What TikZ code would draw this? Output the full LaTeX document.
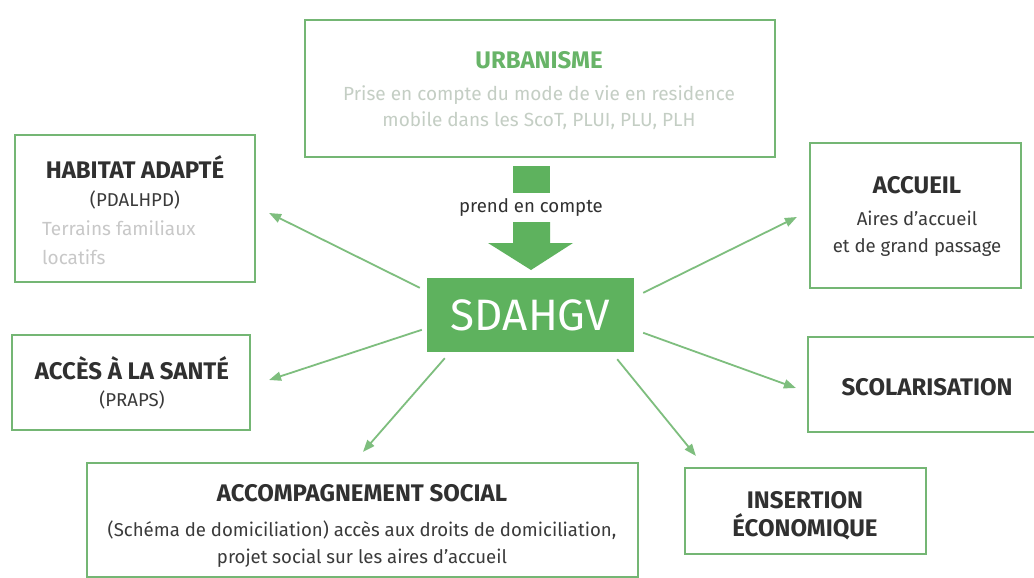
\documentclass[tikz,border=0pt]{standalone}
\usepackage{fontspec}
\setmainfont{Fira Sans}
\usetikzlibrary{arrows.meta,calc}
\definecolor{boxgreen}{RGB}{116,182,116}
\definecolor{sdgreen}{RGB}{94,178,94}
\definecolor{arrgreen}{RGB}{126,190,126}
\definecolor{titlegray}{RGB}{48,48,48}
\definecolor{bodygray}{RGB}{58,58,58}
\definecolor{urbgreen}{RGB}{104,180,104}
\definecolor{faint}{RGB}{196,206,196}
\definecolor{faintgray}{RGB}{200,200,200}
\tikzset{
  box/.style={draw=boxgreen, line width=2.2pt, inner sep=0pt},
  ttl/.style={font=\fontsize{24}{28}\selectfont\bfseries, text=titlegray, inner sep=0pt},
  bdy/.style={font=\fontsize{18.6}{22}\selectfont, text=bodygray, inner sep=0pt},
  fnt/.style={font=\fontsize{19}{22}\selectfont, text=faint, inner sep=0pt},
  arr/.style={draw=arrgreen, line width=1.8pt, -{Triangle[length=12pt,width=9pt]}}
}
\begin{document}
\begin{tikzpicture}[x=1pt,y=-1pt]
\useasboundingbox (0,0) rectangle (1034,578);
\fill[white] (0,0) rectangle (1034,578);
% boxes
\node[box, minimum width=470pt, minimum height=137pt] (urb) at (540,88.5) {};
\node[box, minimum width=240pt, minimum height=147pt] (hab) at (135,208.5) {};
\node[box, minimum width=238pt, minimum height=95pt] (acc) at (131,382.5) {};
\node[box, minimum width=211pt, minimum height=145pt] (accu) at (915.5,215.5) {};
\node[box, minimum width=237pt, minimum height=95pt] (scol) at (926.5,384.5) {};
\node[box, minimum width=551pt, minimum height=114pt] (soc) at (362.5,520) {};
\node[box, minimum width=241pt, minimum height=86pt] (ins) at (805.5,511) {};
\node[fill=sdgreen, inner sep=0pt, minimum width=207pt, minimum height=74pt,
      font=\fontsize{44}{50}\selectfont, text=white] (sd) at (530.5,315) {SDAHGV};
% urbanisme texts
\node[ttl, text=urbgreen] (urbt) at (539,60) {URBANISME};
\node[fnt] (urb1) at (539,95) {Prise en compte du mode de vie en residence};
\node[fnt] (urb2) at (539,121) {mobile dans les ScoT, PLUI, PLU, PLH};
% big arrow
\node[fill=sdgreen, inner sep=0pt, minimum width=37pt, minimum height=27pt] (sq) at (531.5,179.5) {};
\node[bdy, text=titlegray] (pec) at (531,208) {prend en compte};
\fill[sdgreen] (513,222) -- (550,222) -- (550,243) -- (573,243) -- (531,270) -- (488,243) -- (513,243) -- cycle;
% habitat
\node[ttl] (habt) at (135,167) {HABITAT ADAPTÉ};
\node[bdy] (hab1) at (135,200) {(PDALHPD)};
\node[fnt, text=faintgray, anchor=west] (hab2) at (42,228) {Terrains familiaux};
\node[fnt, text=faintgray, anchor=west] (hab3) at (42,257) {locatifs};
% acces
\node[ttl] (acct) at (132,368) {ACCÈS À LA SANTÉ};
\node[bdy] (acc1) at (132,400) {(PRAPS)};
% accueil
\node[ttl] (accut) at (917,185) {ACCUEIL};
\node[bdy] (accu1) at (917,218) {Aires d’accueil};
\node[bdy] (accu2) at (917,248) {et de grand passage};
% scolarisation
\node[ttl] (scolt) at (927,387) {SCOLARISATION};
% insertion
\node[ttl] (ins1) at (805,500) {INSERTION};
\node[ttl] (ins2) at (805,527) {ÉCONOMIQUE};
% accompagnement
\node[ttl] (soct) at (362,493) {ACCOMPAGNEMENT SOCIAL};
\node[bdy] (soc1) at (362,530) {(Schéma de domiciliation) accès aux droits de domiciliation,};
\node[bdy] (soc2) at (362,558) {projet social sur les aires d’accueil};
% connectors
\draw[arr] ($(sd.north west)+(-7,10)$) -- ($(hab.east)+(13,4.5)$);
\draw[arr] ($(sd.north west)+(-5,52)$) -- ($(acc.east)+(18,-2.5)$);
\draw[arr] ($(sd.north east)+(9,15)$) -- ($(accu.west)+(-12,1.5)$);
\draw[arr] ($(sd.north east)+(9,55)$) -- ($(scol.west)+(-11,3.5)$);
\draw[arr] ($(sd.south west)+(18,6)$) -- ($(soc.north)+(0.5,-10)$);
\draw[arr] ($(sd.south east)+(-17,7)$) -- ($(ins.north west)+(12,-11)$);
\end{tikzpicture}
\end{document}
